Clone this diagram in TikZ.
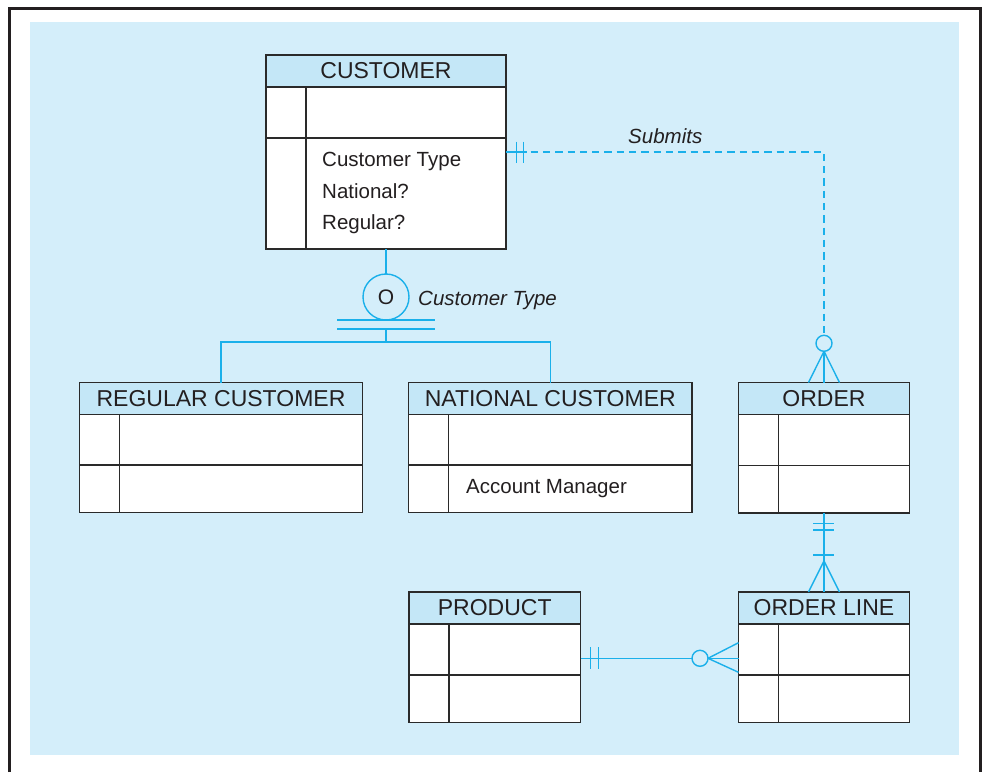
\documentclass[tikz,border=0pt]{standalone}
\usepackage{fontspec}
\setmainfont{Liberation Sans}
\usepackage{tikz}
\usetikzlibrary{positioning,calc}

\definecolor{bgblue}{HTML}{D4EEFA}
\definecolor{hdrblue}{HTML}{C4E7F7}
\definecolor{erline}{HTML}{1AB0EA}
\definecolor{boxline}{HTML}{2A2A2A}
\definecolor{inkgray}{HTML}{231F20}

\begin{document}
\begin{tikzpicture}[
      x=1pt, y=-1pt, text=inkgray,
      hdr/.style={draw=boxline, fill=hdrblue, line width=1.4pt, anchor=north west,
        minimum height=32, inner sep=0pt, outer sep=0pt,
        font=\fontsize{23}{27}\selectfont},
      keyc/.style={draw=boxline, fill=white, line width=1.4pt, anchor=north west,
        minimum width=40, inner sep=0pt, outer sep=0pt},
      attc/.style={keyc, minimum width=#1},
      att/.style={inner sep=0pt, align=left, font=\fontsize{20.5}{31.5}\selectfont},
      lbl/.style={inner sep=0pt, font=\fontsize{20.5}{24}\selectfont\itshape},
      rel/.style={draw=erline, line width=1.4pt},
      optc/.style={circle, draw=erline, line width=1.4pt, minimum size=16, inner sep=0pt, outer sep=0pt},
    ]
    \useasboundingbox (0,0) rectangle (983,772);
    \fill[bgblue] (30,22) rectangle (959,755);
    \draw[inkgray, line width=2.4pt] (9.3,772) |- (980.5,8.3) -- (980.5,772);

    % entities
    \node[hdr, minimum width=240] (cust) at (266,55) {CUSTOMER};
    \node[keyc, minimum height=51] (custk1) at (cust.south west) {};
    \node[attc=200, minimum height=51] (custa1) at (custk1.north east) {};
    \node[keyc, minimum height=111] (custk2) at (custk1.south west) {};
    \node[attc=200, minimum height=111] (custa2) at (custk2.north east) {};
    \node[att, anchor=north west] (custtxt) at (322,152) {Customer Type\\National?\\Regular?};

    \node[hdr, minimum width=283] (reg) at (79.5,382.5) {REGULAR CUSTOMER};
    \node[keyc, minimum height=50.5] (regk1) at (reg.south west) {};
    \node[attc=243, minimum height=50.5] (rega1) at (regk1.north east) {};
    \node[keyc, minimum height=47.5] (regk2) at (regk1.south west) {};
    \node[attc=243, minimum height=47.5] (rega2) at (regk2.north east) {};

    \node[hdr, minimum width=283.5] (nat) at (408.5,382.5) {NATIONAL CUSTOMER};
    \node[keyc, minimum height=50.5] (natk1) at (nat.south west) {};
    \node[attc=243.5, minimum height=50.5] (nata1) at (natk1.north east) {};
    \node[keyc, minimum height=47.5] (natk2) at (natk1.south west) {};
    \node[attc=243.5, minimum height=47.5] (nata2) at (natk2.north east) {};
    \node[att, anchor=base west] (nattxt) at (466,493.5) {Account Manager};

    \node[hdr, minimum width=171] (ord) at (738.5,382.5) {ORDER};
    \node[keyc, minimum height=51] (ordk1) at (ord.south west) {};
    \node[attc=131, minimum height=51] (orda1) at (ordk1.north east) {};
    \node[keyc, minimum height=47.5] (ordk2) at (ordk1.south west) {};
    \node[attc=131, minimum height=47.5] (orda2) at (ordk2.north east) {};

    \node[hdr, minimum width=171.5] (prod) at (409,592) {PRODUCT};
    \node[keyc, minimum height=51] (prodk1) at (prod.south west) {};
    \node[attc=131.5, minimum height=51] (proda1) at (prodk1.north east) {};
    \node[keyc, minimum height=47.5] (prodk2) at (prodk1.south west) {};
    \node[attc=131.5, minimum height=47.5] (proda2) at (prodk2.north east) {};

    \node[hdr, minimum width=171] (ol) at (738.5,592) {ORDER LINE};
    \node[keyc, minimum height=51] (olk1) at (ol.south west) {};
    \node[attc=131, minimum height=51] (ola1) at (olk1.north east) {};
    \node[keyc, minimum height=47.5] (olk2) at (olk1.south west) {};
    \node[attc=131, minimum height=47.5] (ola2) at (olk2.north east) {};

    % subtype
    \node[circle, draw=erline, line width=1.4pt, minimum size=46, inner sep=0pt, outer sep=0pt,
      font=\fontsize{21}{24}\selectfont] (disj) at (386,297) {O};
    \node[lbl, anchor=base west] (disjlbl) at (418,305) {Customer Type};
    \draw[rel] (disj.north) -- (disj.north |- custa2.south);
    \draw[rel] ([xshift=-49pt]disj.south) -- ([xshift=49pt]disj.south);
    \draw[rel] ([xshift=-49pt,yshift=-9pt]disj.south) -- ([xshift=49pt,yshift=-9pt]disj.south);
    \draw[rel] ([yshift=-9pt]disj.south) -- ([yshift=-22pt]disj.south);
    \draw[rel] (reg.north) |- ([yshift=-22pt]disj.south) -| (nat.north);

    % Submits
    \node[optc] (ordo) at (824,343.3) {};
    \node[lbl, anchor=base west] (sublbl) at (628,143) {Submits};
    \draw[rel, dash pattern=on 7.3pt off 5pt] ([yshift=-14pt]custa2.north east) -| (ordo.north);
    \draw[rel] ([yshift=-14pt]custa2.north east) -- ++(21,0);
    \draw[rel] (516.7,141.5) -- (516.7,163.3); \draw[rel] (523.3,141.5) -- (523.3,163.3);
    \draw[rel] (ordo.south) -- ([xshift=-15.5pt]ord.north); \draw[rel] (ordo.south) -- (ord.north);
    \draw[rel] (ordo.south) -- ([xshift=15.5pt]ord.north);

    % order - order line
    \draw[rel] (ol.north) -- (ol.north |- orda2.south);
    \draw[rel] (813,523.3) -- (834,523.3); \draw[rel] (813,530) -- (834,530);
    \draw[rel] (813,555) -- (834,555);
    \coordinate (olapex) at (824,561);
    \draw[rel] (olapex) -- ([xshift=-15.5pt]ol.north); \draw[rel] (olapex) -- ([xshift=15.5pt]ol.north);

    % product - order line
    \node[optc] (olo) at (700,658.3) {};
    \draw[rel] ([yshift=-8.8pt]proda1.east) -- (olo.west);
    \draw[rel] (590.7,647) -- (590.7,669.3); \draw[rel] (598.3,647) -- (598.3,669.3);
    \draw[rel] (olo.east) -- ([yshift=6.8pt]olk1.west); \draw[rel] (olo.east) -- ([yshift=-8.8pt]olk1.west);
    \draw[rel] (olo.east) -- ([yshift=-22.8pt]olk1.west);
  \end{tikzpicture}
\end{document}
